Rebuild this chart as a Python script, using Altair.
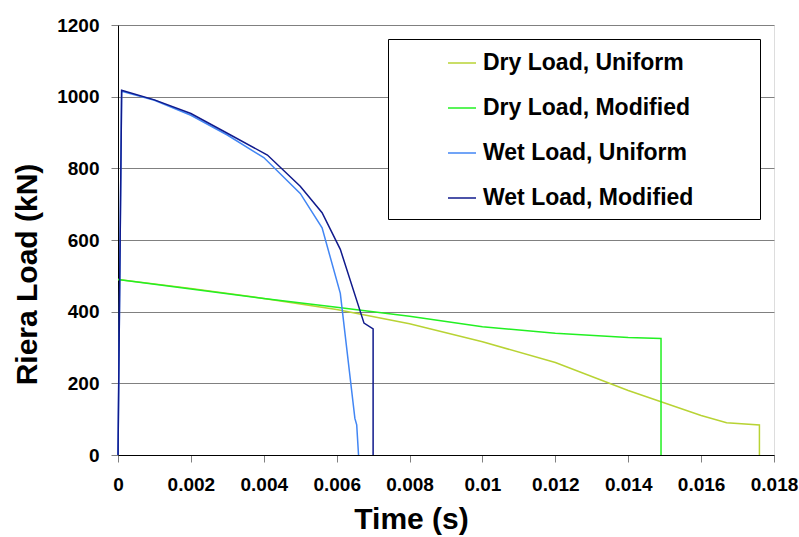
import altair as alt
import pandas as pd

series_names = ["Dry Load, Uniform", "Dry Load, Modified", "Wet Load, Uniform", "Wet Load, Modified"]
colors = ["#B8D334", "#22F022", "#4286F4", "#101A8C"]

dry_uniform_t = [0, 0.002, 0.004, 0.006, 0.008, 0.010, 0.012, 0.014, 0.016, 0.0167, 0.0176, 0.0176]
dry_uniform_v = [490, 465, 437, 406, 366, 316, 258, 180, 110, 90, 84, 0]

dry_modified_t = [0, 0.002, 0.004, 0.006, 0.008, 0.010, 0.012, 0.014, 0.0149, 0.0149]
dry_modified_v = [490, 463, 437, 412, 387, 358, 340, 328, 325, 0]

wet_uniform_t = [0, 0.0001, 0.001, 0.002, 0.003, 0.004, 0.005, 0.0056, 0.0061, 0.0065, 0.00655, 0.0066]
wet_uniform_v = [0, 1015, 990, 948, 893, 830, 730, 634, 451, 102, 84, 0]

wet_modified_t = [0, 0.0001, 0.001, 0.002, 0.003, 0.0041, 0.005, 0.0056, 0.0061, 0.00675, 0.007, 0.007]
wet_modified_v = [0, 1018, 991, 953, 898, 837, 750, 676, 574, 368, 352, 0]

x_ticks = [0, 0.002, 0.004, 0.006, 0.008, 0.010, 0.012, 0.014, 0.016, 0.018]
y_ticks = [0, 200, 400, 600, 800, 1000, 1200]

rows = []
for name, ts, vs in zip(series_names,
                        [dry_uniform_t, dry_modified_t, wet_uniform_t, wet_modified_t],
                        [dry_uniform_v, dry_modified_v, wet_uniform_v, wet_modified_v]):
    for i, (t, v) in enumerate(zip(ts, vs)):
        rows.append({"series": name, "t": t, "load": v, "idx": i})
df = pd.DataFrame(rows)

FONT = "Liberation Sans"
# trailing non-breaking spaces, closed by a zero-width char so they are not trimmed
pad_label = "\u00a0" * 9 + "\u200b"

chart = alt.Chart(df).mark_line(strokeWidth=1.5).encode(
    x=alt.X("t:Q", scale=alt.Scale(domain=[0, 0.018], nice=False),
            axis=alt.Axis(title="Time (s)", values=x_ticks,
                          labelExpr="datum.value == 0 ? '0' : format(datum.value, '~g')",
                          grid=False, tickSize=7, tickColor="#808080", domainColor="#000000",
                          labelFont=FONT, labelFontSize=19, labelFontWeight="bold", labelColor="#000",
                          labelPadding=13, titleFont=FONT, titleFontSize=30, titleFontWeight="bold",
                          titleColor="#000", titlePadding=10, titleX=293, labelFlush=False)),
    y=alt.Y("load:Q", scale=alt.Scale(domain=[0, 1200], nice=False),
            axis=alt.Axis(title="Riera Load (kN)", values=y_ticks, format="d", grid=True,
                          gridColor="#808080", gridWidth=1, tickSize=7, tickColor="#808080",
                          domainColor="#000000",
                          labelFont=FONT, labelFontSize=19, labelFontWeight="bold", labelColor="#000",
                          labelPadding=12, titleFont=FONT, titleFontSize=30, titleFontWeight="bold",
                          titleColor="#000", titlePadding=14, titleY=249)),
    color=alt.Color("series:N", scale=alt.Scale(domain=series_names, range=colors),
                    legend=alt.Legend(title=None, orient="none", legendX=270, legendY=14,
                                      symbolType="stroke", symbolSize=784, symbolStrokeWidth=1.5,
                                      symbolOffset=50, labelOffset=6,
                                      labelFont=FONT, labelFontSize=23, labelFontWeight="bold",
                                      labelColor="#000", rowPadding=18, padding=9,
                                      strokeColor="#000", fillColor="#fff",
                                      labelExpr="datum.label + '" + pad_label + "'",
                                      labelLimit=600)),
    order="idx:Q",
    detail="series:N",
).properties(
    width=656, height=430,
    autosize=alt.AutoSizeParams(type="none"),
    padding={"left": 118, "top": 25, "right": 25, "bottom": 82},
).configure_view(stroke="#000000", strokeWidth=1).configure(background="white")

chart.save("out.html", embed_options={"renderer": "svg", "actions": False})
